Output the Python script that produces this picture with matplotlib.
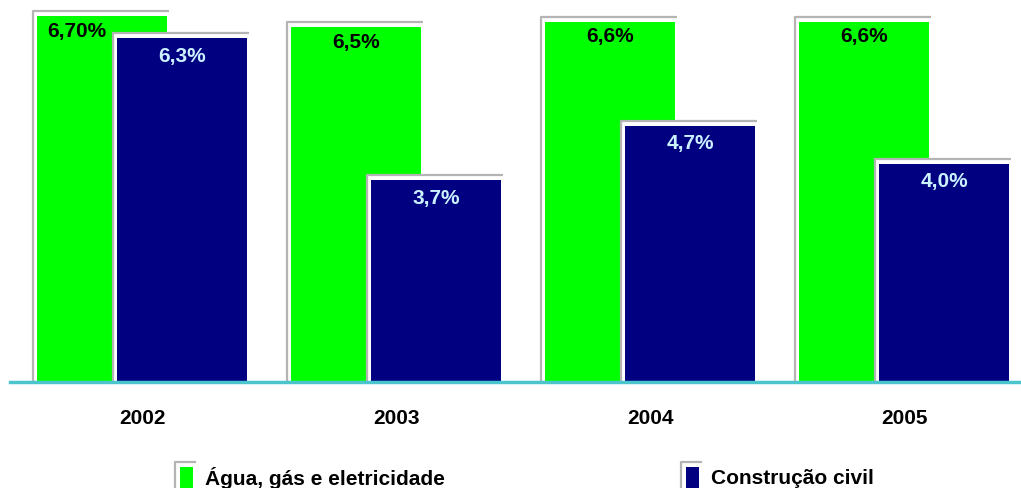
import matplotlib
matplotlib.use("Agg")
import matplotlib.pyplot as plt
from matplotlib.patches import Rectangle

years = ["2002", "2003", "2004", "2005"]
agua = [6.70, 6.5, 6.6, 6.6]
agua_labels = ["6,70%", "6,5%", "6,6%", "6,6%"]
constr = [6.3, 3.7, 4.7, 4.0]
constr_labels = ["6,3%", "3,7%", "4,7%", "4,0%"]
series_names = ["Água, gás e eletricidade", "Construção civil"]

GREEN = "#00ff00"
NAVY = "#000080"
GREY = "#b4b4b4"
CYAN = "#4cc4cc"
LBLUE = "#ccf2ff"

plt.rcParams['font.family'] = ['Liberation Sans', 'DejaVu Sans']

fig = plt.figure(figsize=(10.21, 4.88), dpi=100)
W, H = 1021, 488
ax = fig.add_axes([10 / W, 106 / H, 1 - 10 / W, 382 / H])
ax.set_xlim(-0.52, 3.46)
ax.set_ylim(0, 7.0)
ax.axis('off')

px_x = (3.46 + 0.52) / (W - 10)
px_y = 7.0 / 382
width = 130 * px_x
off = 80 * px_x
dx = 4 * px_x
dy = 5 * px_y


def bar(x0, h, color, z):
    # white backing with grey frame on top/left
    ax.add_patch(Rectangle((x0 - dx, 0), width + dx + 2 * px_x, h + dy,
                           facecolor='white', edgecolor='none', zorder=z))
    ax.plot([x0 - dx, x0 - dx, x0 + width + 2 * px_x], [0, h + dy, h + dy],
            color=GREY, lw=1.6, zorder=z + 0.1, solid_capstyle='butt')
    ax.bar(x0, h, width=width, align='edge', color=color, zorder=z + 0.2)


for i in range(len(years)):
    g0 = i - (width + off) / 2
    n0 = g0 + off
    bar(g0, agua[i], GREEN, 2 + i * 2)
    bar(n0, constr[i], NAVY, 3 + i * 2)
    gx = g0 + off / 2 if i == 0 else g0 + width / 2
    ax.text(gx, agua[i] - 15 * px_y, agua_labels[i], ha='center', va='center',
            fontsize=15, fontweight='bold', color='black', zorder=20)
    ax.text(n0 + width / 2, constr[i] - 18 * px_y, constr_labels[i], ha='center',
            va='center', fontsize=15, fontweight='bold', color=LBLUE, zorder=20)

ax.axhline(0, color=CYAN, lw=2.5, zorder=30, clip_on=False)

for i, y in enumerate(years):
    ax.text(i, -37 * px_y, y, ha='center', va='center', fontsize=15,
            fontweight='bold', color='black', clip_on=False)

# legend
def legend_item(xf, color, label):
    lax = fig.add_axes([0, 0, 1, 1], zorder=-1)
    lax.set_xlim(0, W)
    lax.set_ylim(H, 0)
    lax.axis('off')
    lax.add_patch(Rectangle((xf + 5, 467), 13, 30, facecolor=color, edgecolor='none'))
    lax.plot([xf, xf, xf + 20], [495, 462, 462], color=GREY, lw=1.6)
    lax.text(xf + 30, 478, label, ha='left', va='center', fontsize=15,
             fontweight='bold', color='black')

legend_item(175, GREEN, series_names[0])
legend_item(681, NAVY, series_names[1])

fig.savefig("out.png", dpi=100)
